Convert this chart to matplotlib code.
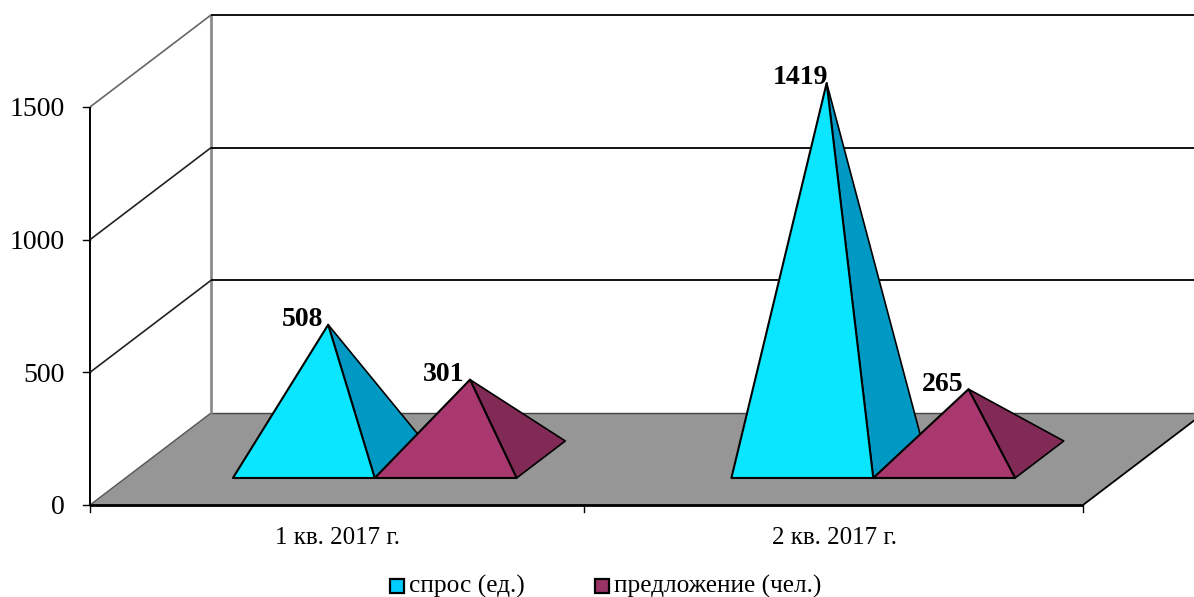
import matplotlib
matplotlib.use("Agg")
import matplotlib.pyplot as plt
from matplotlib.patches import Polygon

plt.rcParams['font.family'] = ['Liberation Serif', 'DejaVu Serif']

# Данные
categories = ["1 кв. 2017 г.", "2 кв. 2017 г."]
series_names = ["спрос (ед.)", "предложение (чел.)"]
demand = [508, 1419]
supply = [301, 265]
y_ticks = [0, 500, 1000, 1500]

# Цвета
front_colors = ["#0AE6FF", "#A9386F"]
side_colors = ["#0099C4", "#802A55"]
legend_colors = ["#00CCFF", "#993366"]
floor_color = "#969696"

W, H = 1194, 597
fig = plt.figure(figsize=(W / 100, H / 100), dpi=100)
ax = fig.add_axes([0, 0, 1, 1])

# шкалы: 1 категория = 496.5 px, 1500 единиц = 398 px
cat_px = 496.5
val_px = 398 / 1500
ax.set_xlim(-90 / cat_px, (W - 90) / cat_px)
ax.set_ylim(-(H - 505) / val_px, 505 / val_px)
ax.axis('off')


def pt(x, v, d=0.0):
    # косая проекция: d=1 это задняя стенка
    return (x + d * 121 / cat_px, v + d * 92 / val_px)


def line(a, b, color="black", lw=1.3, z=2):
    ax.plot([a[0], b[0]], [a[1], b[1]], color=color, lw=lw, zorder=z,
            solid_capstyle='butt')


# пол
ax.add_patch(Polygon([pt(0, 0), pt(2, 0), pt(2, 0, 1), pt(0, 0, 1)],
                     facecolor=floor_color, edgecolor="none", zorder=1))
line(pt(0, 0, 1), pt(2, 0, 1), color="#444444", lw=1.0)
line(pt(0, 0), pt(0, 0, 1), color="#555555", lw=1.0)
line(pt(2, 0), pt(2, 0, 1), lw=1.3)
line(pt(0, 0), pt(2, 0), lw=2.0, z=5)

# стенки и сетка
line(pt(0, 0), pt(0, 1500), lw=1.4)
line(pt(0, 0, 1), pt(0, 1500, 1), color="#8c8c8c", lw=2.0)
for v in y_ticks[1:]:
    line(pt(0, v), pt(0, v, 1), color="#222222" if v < 1500 else "#666666", lw=1.2)
    line(pt(0, v, 1), pt(2, v, 1), lw=1.3)

# засечки
for v in y_ticks:
    x0, y0 = pt(0, v)
    ax.plot([x0 - 7 / cat_px, x0], [y0, y0], color="black", lw=1.0, zorder=5)
    ax.text(x0 - 25 / cat_px, y0, str(v), ha='right', va='center_baseline', fontsize=20)
for i in range(3):
    ax.plot([i - 0.005 * (i == 1)] * 2, [0, -7 / val_px], color="black", lw=1.0, zorder=5)
for i, c in enumerate(categories):
    ax.text(i + 0.5 - 0.002 * (1 - i), -33 / val_px, c, ha='center', va='center', fontsize=18)

# пирамиды
bar_w = 1 / 3.5
gap = bar_w / 2
d0, d1 = 27 / 92, 64 / 92
for i in range(2):
    for s, vals in enumerate([demand, supply]):
        left = i + 1.5 * gap + s * bar_w + (1 + 2 * i) / cat_px
        right = left + bar_w
        bx = left + bar_w / 2
        dm = (d0 + d1) / 2
        apex = pt(bx, vals[i], dm)
        z = 3 + s
        ax.add_patch(Polygon([pt(right, 0, d0), pt(right, 0, d1), apex],
                             facecolor=side_colors[s], edgecolor="black", lw=1.2,
                             joinstyle='round', zorder=z))
        ax.add_patch(Polygon([pt(left, 0, d0), pt(right, 0, d0), apex],
                             facecolor=front_colors[s], edgecolor="black", lw=1.5,
                             joinstyle='round', zorder=z))
        ax.text(apex[0] - 26 / cat_px, apex[1] + 8 / val_px, str(vals[i]), ha='center',
                va='center_baseline', fontsize=20, fontweight='bold', zorder=6)

# легенда
marker_x = [397, 602]
text_x = [409, 614]
for s, name in enumerate(series_names):
    ax.plot([(marker_x[s] - 90) / cat_px], [-(586 - 505) / val_px], marker='s', ms=9.5,
            mfc=legend_colors[s], mec="black", mew=1.6, ls='none', zorder=6)
    ax.text((text_x[s] - 90) / cat_px, -(586 - 505) / val_px, name, ha='left',
            va='center', fontsize=18.3)

plt.savefig("out.png", dpi=100)
